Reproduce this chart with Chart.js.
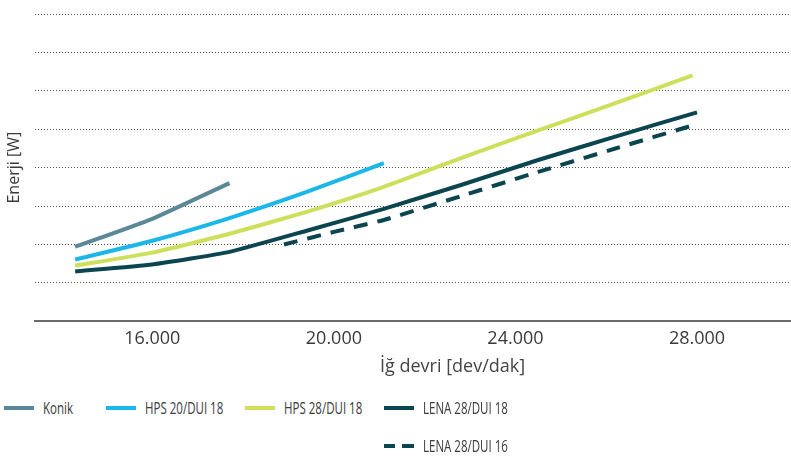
<!DOCTYPE html>
<html>
<head>
<meta charset="utf-8">
<script src="https://cdn.jsdelivr.net/npm/chart.js@4/dist/chart.umd.min.js"></script>
<style>
    body { margin: 0; background: #fff; }
    #wrap { position: relative; width: 791px; height: 460px; }
    #chartBox { position: absolute; left: 0; top: 0; width: 791px; height: 380px; }
    #xTitle { position: absolute; left: 380px; top: 353px; font: 18px "Open Sans", sans-serif; color: #444; white-space: nowrap; }
    .legItem { position: absolute; display: flex; align-items: center; font: 16px "Open Sans", sans-serif; color: #3a3a3a; white-space: nowrap; }
    .legSwatch { width: 30px; height: 0; border-top: 4px solid; margin-right: 9px; flex: none; }
    .legText { display: inline-block; transform: scaleX(0.72); transform-origin: left center; }
</style>
</head>
<body>
<div id="wrap">
    <div id="chartBox"><canvas id="energyChart"></canvas></div>
    <div id="xTitle">İğ devri [dev/dak]</div>
    <div id="legend"></div>
</div>
<script>
// Data (y in grid units, no tick labels on the y axis)
const seriesNames = ['Konik', 'HPS 20/DUI 18', 'HPS 28/DUI 18', 'LENA 28/DUI 18', 'LENA 28/DUI 16'];

const konikRpm = [14300, 16000, 17700];
const konikEnerji = [1.94, 2.67, 3.6];

const hps20Rpm = [14300, 16000, 17700, 19400, 21100];
const hps20Enerji = [1.61, 2.1, 2.69, 3.37, 4.12];

const hps28Rpm = [14300, 16000, 17700, 19400, 21100, 22800, 24500, 26200, 27900];
const hps28Enerji = [1.45, 1.79, 2.28, 2.85, 3.5, 4.25, 4.97, 5.68, 6.4];

const lena18Rpm = [14300, 16000, 17700, 19400, 21100, 22800, 24500, 26200, 28000];
const lena18Enerji = [1.3, 1.48, 1.81, 2.36, 2.93, 3.55, 4.2, 4.81, 5.44];

const lena16Rpm = [18900, 20000, 21100, 22800, 24500, 26200, 27900];
const lena16Enerji = [2.0, 2.33, 2.64, 3.26, 3.89, 4.5, 5.1];

const xTicks = [16000, 20000, 24000, 28000];

// Colors
const seriesColors = ['#5b8896', '#1ab7e8', '#cfdf5c', '#0b4650', '#0b4650'];
const seriesDash = [[], [], [], [], [14, 10]];

const toPoints = (xs, ys) => xs.map((x, i) => ({x: x, y: ys[i]}));

const allPoints = [
    toPoints(konikRpm, konikEnerji),
    toPoints(hps20Rpm, hps20Enerji),
    toPoints(hps28Rpm, hps28Enerji),
    toPoints(lena18Rpm, lena18Enerji),
    toPoints(lena16Rpm, lena16Enerji)
];

let datasets = [];
for (let i = 0; i < seriesNames.length; i++) {
    datasets.push({
        label: seriesNames[i],
        data: allPoints[i],
        borderColor: seriesColors[i],
        backgroundColor: seriesColors[i],
        borderWidth: 4,
        borderDash: seriesDash[i],
        borderCapStyle: 'butt',
        pointRadius: 0,
        tension: 0.15,
        fill: false
    });
}

const ctx = document.getElementById('energyChart').getContext('2d');

const energyChart = new Chart(ctx, {
    type: 'line',
    data: { datasets: datasets },
    options: {
        animation: false,
        responsive: true,
        maintainAspectRatio: false,
        layout: { padding: { left: 5, right: 0, top: 14, bottom: 23 } },
        plugins: {
            legend: { display: false },
            tooltip: { enabled: false }
        },
        scales: {
            x: {
                type: 'linear',
                min: 13420,
                max: 30070,
                afterBuildTicks: (scale) => {
                    scale.ticks = xTicks.map(v => ({value: v}));
                },
                ticks: {
                    padding: 7,
                    color: '#3a3a3a',
                    font: { family: 'Open Sans', size: 18 },
                    callback: (v) => v.toString().replace(/\B(?=(\d{3})+(?!\d))/g, '.')
                },
                grid: { drawOnChartArea: false, drawTicks: false },
                border: { display: true, color: '#6b6b6b', width: 2 },
                title: { display: false }
            },
            y: {
                min: 0,
                max: 8,
                ticks: { display: false, stepSize: 1 },
                grid: {
                    drawTicks: false,
                    color: (c) => c.tick && c.tick.value === 0 ? 'rgba(0,0,0,0)' : '#555',
                    lineWidth: 1
                },
                border: { display: false, dash: [1, 2] },
                title: {
                    display: true,
                    text: 'Enerji [W]',
                    color: '#3a3a3a',
                    font: { family: 'Open Sans', size: 16 },
                    padding: { top: 0, bottom: 11 }
                }
            }
        }
    }
});

// Legend below the chart, built from the datasets
const legendBox = document.getElementById('legend');
const legendSpots = [[4, 408], [106, 408], [245, 408], [384, 408], [384, 446]];
datasets.forEach((ds, i) => {
    const item = document.createElement('div');
    item.className = 'legItem';
    item.style.left = legendSpots[i][0] + 'px';
    item.style.top = (legendSpots[i][1] - 11) + 'px';
    item.style.height = '22px';
    const sw = document.createElement('span');
    sw.className = 'legSwatch';
    sw.style.borderTopColor = ds.borderColor;
    if (ds.borderDash.length) {
        sw.style.borderTopStyle = 'none';
        sw.style.height = '4px';
        sw.style.background = 'linear-gradient(to right, ' + ds.borderColor + ' 0 11px, transparent 11px 18px, ' + ds.borderColor + ' 18px 30px)';
    }
    const txt = document.createElement('span');
    txt.className = 'legText';
    txt.textContent = ds.label;
    item.appendChild(sw);
    item.appendChild(txt);
    legendBox.appendChild(item);
});
</script>
</body>
</html>
